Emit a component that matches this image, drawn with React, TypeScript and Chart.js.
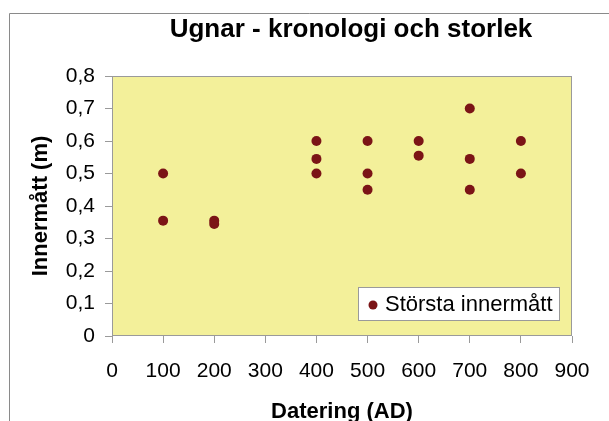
import React, { useEffect, useRef } from "react";
import { Chart, registerables } from "chart.js";

Chart.register(...registerables);

const chartTitle = "Ugnar - kronologi och storlek";
const xTitle = "Datering (AD)";
const yTitle = "Innermått (m)";
const seriesName = "Största innermått";

const datering = [100, 100, 200, 200, 400, 400, 400, 500, 500, 500, 600, 600, 700, 700, 700, 800, 800];
const innermatt = [0.5, 0.355, 0.355, 0.345, 0.6, 0.545, 0.5, 0.6, 0.5, 0.45, 0.6, 0.555, 0.7, 0.545, 0.45, 0.6, 0.5];

const xMin = 0;
const xMax = 900;
const xStep = 100;
const yMin = 0;
const yMax = 0.8;
const yStep = 0.1;

const pointColor = "#7B1416";
const plotBg = "#F3F09A";
const FONT = "'Liberation Sans', Arial, sans-serif";

const decor = {
  id: "decor",
  beforeDraw(chart: any) {
    const { ctx, chartArea: a } = chart;
    ctx.save();
    ctx.fillStyle = "#ffffff";
    ctx.fillRect(0, 0, chart.width, chart.height);
    ctx.strokeStyle = "#8a8a8a";
    ctx.lineWidth = 1;
    ctx.beginPath();
    ctx.moveTo(9.5, 421);
    ctx.lineTo(9.5, 13.5);
    ctx.lineTo(609, 13.5);
    ctx.stroke();
    ctx.fillStyle = plotBg;
    ctx.fillRect(a.left, a.top, a.right - a.left, a.bottom - a.top);
    ctx.strokeStyle = "#9a9a9a";
    ctx.strokeRect(a.left + 0.5, a.top + 0.5, a.right - a.left - 1, a.bottom - a.top - 1);
    // chart title
    ctx.fillStyle = "#000000";
    ctx.font = `bold 26px ${FONT}`;
    ctx.textAlign = "center";
    ctx.textBaseline = "alphabetic";
    ctx.fillText(chartTitle, 351, 37);
    ctx.restore();
  },
  afterDraw(chart: any) {
    const { ctx, chartArea: a } = chart;
    ctx.save();
    const bx = a.left + 246;
    const by = a.top + 211;
    const bw = 202;
    const bh = 34;
    ctx.fillStyle = "#ffffff";
    ctx.fillRect(bx, by, bw, bh);
    ctx.strokeStyle = "#9a9a9a";
    ctx.lineWidth = 1;
    ctx.strokeRect(bx + 0.5, by + 0.5, bw - 1, bh - 1);
    ctx.fillStyle = pointColor;
    ctx.beginPath();
    ctx.arc(bx + 15, by + bh / 2 + 1, 4.5, 0, Math.PI * 2);
    ctx.fill();
    ctx.fillStyle = "#000000";
    ctx.font = `22px ${FONT}`;
    ctx.textBaseline = "middle";
    ctx.textAlign = "left";
    ctx.fillText(seriesName, bx + 27, by + bh / 2 + 1);
    ctx.restore();
  },
};

export default function App() {
  const ref = useRef<HTMLCanvasElement>(null);
  useEffect(() => {
    const canvas = ref.current!;
    const chart = new Chart(canvas, {
      type: "scatter",
      data: {
        datasets: [
          {
            label: seriesName,
            data: datering.map((x, i) => ({ x, y: innermatt[i] })),
            backgroundColor: pointColor,
            borderColor: pointColor,
            pointRadius: 5,
            pointHoverRadius: 5,
            borderWidth: 0,
          },
        ],
      },
      options: {
        responsive: false,
        animation: false,
        events: [],
        layout: { padding: { left: 0, right: 37, top: 76, bottom: 0 } },
        plugins: {
          legend: { display: false },
          tooltip: { enabled: false },
          title: { display: false },
        },
        scales: {
          x: {
            type: "linear",
            min: xMin,
            max: xMax,
            ticks: {
              stepSize: xStep,
              color: "#000",
              font: { family: FONT, size: 21 },
              padding: 16,
              maxRotation: 0,
            },
            grid: { drawOnChartArea: false, drawTicks: true, tickLength: 7, color: "#9a9a9a" },
            border: { display: false },
            title: {
              display: true,
              text: xTitle,
              color: "#000",
              font: { family: FONT, size: 22, weight: "bold", lineHeight: 1.2 },
              padding: { top: 0, bottom: -4 },
            },
            afterFit(scale: any) {
              scale.height = 85;
            },
          },
          y: {
            type: "linear",
            min: yMin,
            max: yMax,
            ticks: {
              stepSize: yStep,
              color: "#000",
              font: { family: FONT, size: 21 },
              padding: 10,
              callback: (v: any) => String(Math.round(Number(v) * 10) / 10).replace(".", ","),
            },
            grid: { drawOnChartArea: false, drawTicks: true, tickLength: 7, color: "#9a9a9a" },
            border: { display: false },
            title: {
              display: true,
              text: yTitle,
              color: "#000",
              font: { family: FONT, size: 22, weight: "bold", lineHeight: 1.2 },
              padding: { top: 28, bottom: 0 },
            },
            afterFit(scale: any) {
              scale.width = 112;
            },
          },
        },
      },
      plugins: [decor],
    });
    return () => chart.destroy();
  }, []);
  return (
    <div style={{ position: "fixed", left: 0, top: 0, width: 609, height: 421 }}>
      <canvas ref={ref} width={609} height={421} style={{ display: "block" }} />
    </div>
  );
}
